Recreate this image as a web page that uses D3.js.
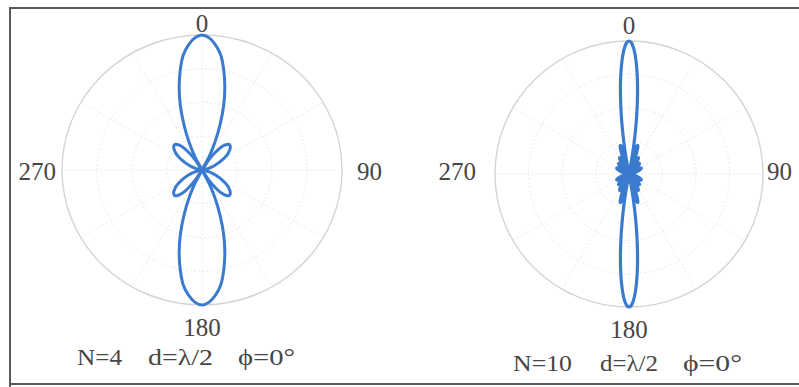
<!DOCTYPE html>
<html>
<head>
<meta charset="utf-8">
<script src="https://cdn.jsdelivr.net/npm/d3@7"></script>
<style>
  html, body { margin: 0; padding: 0; background: #fff; }
  svg { display: block; }
  text { font-family: "Liberation Serif", "Times New Roman", Times, serif; fill: #464646; }
</style>
</head>
<body>
<svg id="chart" width="799" height="387"></svg>
<script>
// Normalised array factor |AF| for a uniform broadside array, one quadrant (0°..90°).
// The other three quadrants follow from the pattern's symmetry about both axes.
const anglesN4 = [0,3,6,9,12,15,18,21,24,27,30,33,36,39,42,45,48,51,54,57,60,63,66,69,72,75,78,81,84,87,90];
const afN4 = [1.00,0.98,0.93,0.86,0.75,0.63,0.50,0.36,0.23,0.11,0.00,0.09,0.16,0.22,0.25,0.27,0.27,0.26,0.24,0.22,0.19,0.16,0.13,0.10,0.075,0.053,0.034,0.019,0.009,0.002,0.00];

const anglesN10 = d3.range(0, 91); // 1° steps
const afN10 = [
  1.000,0.988,0.951,0.892,0.813,0.718,0.610,0.495,0.377,0.260,
  0.149,0.049,0.039,0.110,0.165,0.202,0.221,0.224,0.212,0.188,
  0.154,0.114,0.071,0.025,0.018,0.056,0.089,0.115,0.133,0.142,
  0.141,0.134,0.122,0.101,0.077,0.050,0.022,0.006,0.032,0.054,
  0.074,0.090,0.101,0.109,0.112,0.111,0.106,0.097,0.085,0.071,
  0.055,0.037,0.020,0.002,0.015,0.031,0.046,0.059,0.071,0.080,
  0.088,0.094,0.098,0.100,0.101,0.101,0.099,0.096,0.092,0.087,
  0.082,0.076,0.070,0.064,0.057,0.051,0.045,0.039,0.034,0.029,
  0.024,0.019,0.015,0.012,0.009,0.006,0.004,0.002,0.001,0.000,
  0.000
];

const directionLabels = ["0", "90", "180", "270"];
const captionN4 = ["N=4", "d=λ/2", "ϕ=0°"];
const captionN10 = ["N=10", "d=λ/2", "ϕ=0°"];
const ringLevels = [0.25, 0.5, 0.75];
const spokeAngles = d3.range(0, 360, 30);

const svg = d3.select("#chart");

// outer frame
svg.append("path")
  .attr("d", "M10,388 L10,8 L800,8 M10,384 L800,384")
  .attr("fill", "none")
  .attr("stroke", "#5a5a5a")
  .attr("stroke-width", 2);

// expand one quadrant to the full 0..360 trace
function fullTrace(angles, values) {
  const pts = [];
  angles.forEach((a, i) => pts.push([a, values[i]]));
  for (let i = angles.length - 2; i >= 0; i--) pts.push([180 - angles[i], values[i]]);
  for (let i = 1; i < angles.length; i++) pts.push([180 + angles[i], values[i]]);
  for (let i = angles.length - 2; i >= 1; i--) pts.push([360 - angles[i], values[i]]);
  return pts;
}

function polarPlot(cfg) {
  const r = d3.scaleLinear().domain([0, 1]).range([0, cfg.rx]);
  const ang = d3.scaleLinear().domain([0, 360]).range([0, 2 * Math.PI]);

  const g = svg.append("g")
    .attr("transform", `translate(${cfg.cx},${cfg.cy}) scale(1,${cfg.ry / cfg.rx})`);

  // grid rings
  g.selectAll("circle.ring").data(ringLevels).join("circle")
    .attr("r", d => r(d))
    .attr("fill", "none")
    .attr("stroke", "#e4e4e4")
    .attr("stroke-width", 1)
    .attr("stroke-dasharray", "1.5,2.5")
    .attr("vector-effect", "non-scaling-stroke");

  // radial spokes
  g.selectAll("line.spoke").data(spokeAngles).join("line")
    .attr("x1", 0).attr("y1", 0)
    .attr("x2", d => r(1) * Math.sin(ang(d)))
    .attr("y2", d => -r(1) * Math.cos(ang(d)))
    .attr("stroke", d => d % 90 === 0 ? "#dfe8e4" : "#e6e6e6")
    .attr("stroke-width", 1)
    .attr("stroke-dasharray", "1.5,2.5")
    .attr("vector-effect", "non-scaling-stroke");

  // outer ring
  g.append("circle")
    .attr("r", r(1))
    .attr("fill", "none")
    .attr("stroke", "#d4d4d4")
    .attr("stroke-width", 1.4)
    .attr("vector-effect", "non-scaling-stroke");

  // pattern
  const line = d3.lineRadial()
    .angle(d => ang(d[0]))
    .radius(d => r(d[1]))
    .curve(d3.curveCatmullRomClosed.alpha(0.5));

  g.append("path")
    .datum(fullTrace(cfg.angles, cfg.values))
    .attr("d", line)
    .attr("fill", "none")
    .attr("stroke", "#3a7bd0")
    .attr("stroke-width", cfg.lw)
    .attr("stroke-linejoin", "round")
    .attr("vector-effect", "non-scaling-stroke");

  // direction labels
  const lab = svg.append("g").attr("font-size", cfg.fs);
  lab.append("text").attr("x", cfg.cx).attr("y", cfg.topY).attr("text-anchor", "middle").text(directionLabels[0]);
  lab.append("text").attr("x", cfg.rightX).attr("y", cfg.sideY).attr("text-anchor", "start").text(directionLabels[1]);
  lab.append("text").attr("x", cfg.cx).attr("y", cfg.bottomY).attr("text-anchor", "middle").text(directionLabels[2]);
  lab.append("text").attr("x", cfg.leftX).attr("y", cfg.sideY).attr("text-anchor", "end").text(directionLabels[3]);

  // caption
  const cap = svg.append("g").attr("font-size", cfg.capFs);
  cfg.caption.forEach((t, i) => {
    cap.append("text")
      .attr("x", cfg.capX[i])
      .attr("y", cfg.capY)
      .attr("textLength", cfg.capW[i])
      .attr("lengthAdjust", "spacingAndGlyphs")
      .text(t);
  });
}

polarPlot({
  cx: 202, cy: 170, rx: 140, ry: 135,
  angles: anglesN4, values: afN4, lw: 3,
  fs: 25, topY: 32, bottomY: 336, sideY: 180, leftX: 56, rightX: 357,
  caption: captionN4, capFs: 23, capY: 365,
  capX: [77, 148, 238], capW: [45, 65, 57]
});

polarPlot({
  cx: 629, cy: 174, rx: 134, ry: 133,
  angles: anglesN10, values: afN10, lw: 3.2,
  fs: 25, topY: 34, bottomY: 338, sideY: 180, leftX: 476, rightX: 767,
  caption: captionN10, capFs: 23, capY: 371,
  capX: [513, 600, 683], capW: [59, 58, 59]
});
</script>
</body>
</html>
